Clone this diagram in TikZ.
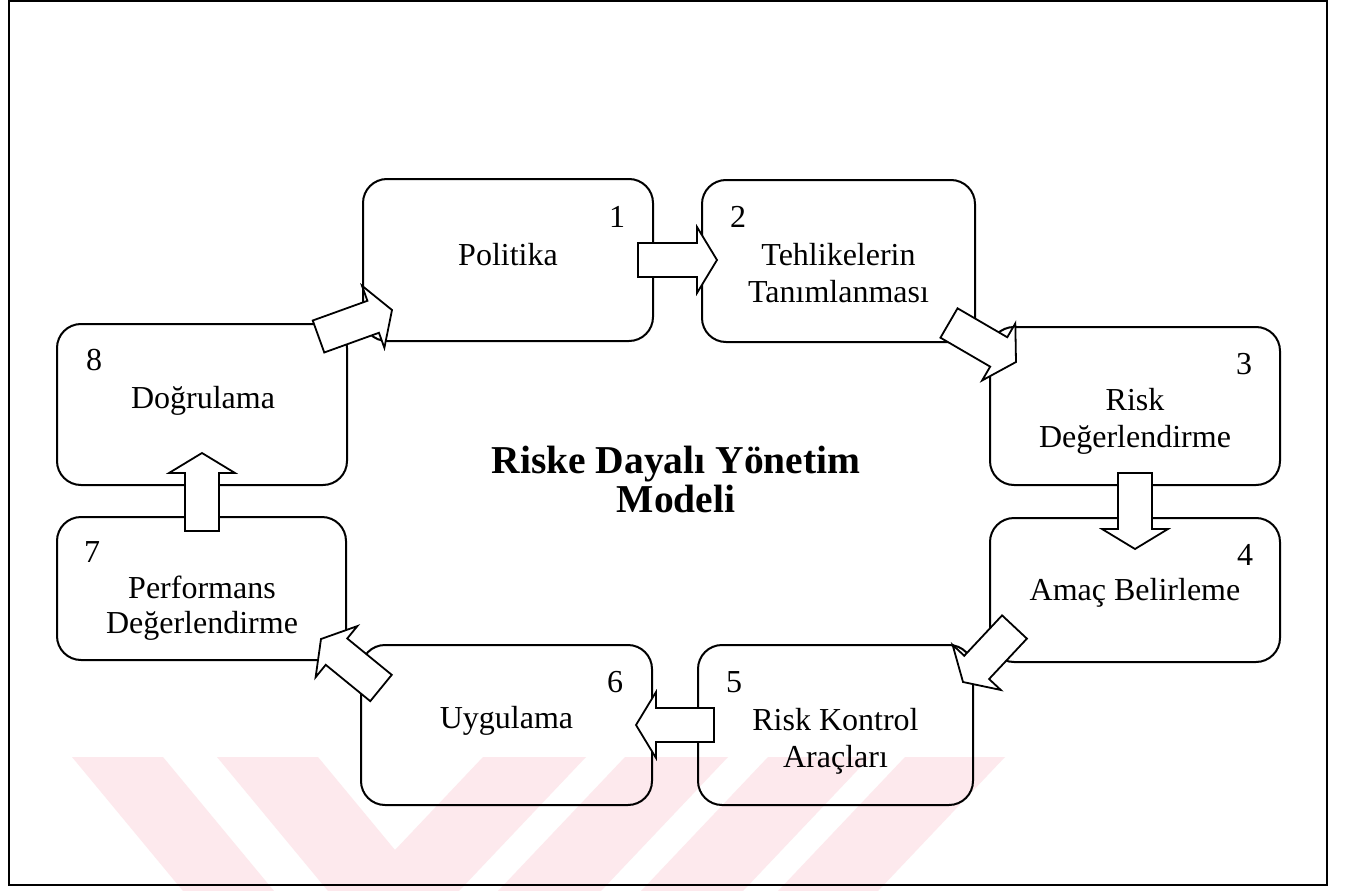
\documentclass[tikz,border=0pt]{standalone}
\usepackage{fontspec}
\setmainfont{Liberation Serif}
\usetikzlibrary{calc}
\definecolor{wmpink}{RGB}{253,233,237}
\begin{document}
\begin{tikzpicture}[x=1pt,y=-1pt,
  stagebox/.style={draw, line width=2pt, rounded corners=24pt, inner sep=0pt},
  lbl/.style={font=\fontsize{32}{37}\selectfont, inner sep=0pt, anchor=base},
  ttl/.style={font=\bfseries\fontsize{39.5}{40}\selectfont, inner sep=0pt, anchor=base},
  blockarrow/.style={fill=white, draw, line width=1.8pt, line join=miter,
    to path={let \p1=(\tikztostart), \p2=(\tikztotarget),
      \n1={atan2(\y2-\y1,\x2-\x1)} in
      ($(\p1)+(\n1+90:17pt)$)
      -- ($(\p2)+(\n1+180:20pt)+(\n1+90:17pt)$)
      -- ($(\p2)+(\n1+180:20pt)+(\n1+90:33pt)$)
      -- (\p2)
      -- ($(\p2)+(\n1+180:20pt)+(\n1-90:33pt)$)
      -- ($(\p2)+(\n1+180:20pt)+(\n1-90:17pt)$)
      -- ($(\p1)+(\n1-90:17pt)$) -- cycle}}]

% page
\fill[white] (0,0) rectangle (1345,891);
\useasboundingbox (0,0) rectangle (1345,891);

% faint stripes along the bottom
\begin{scope}
  \clip (0,757) rectangle (1345,891);
  \fill[wmpink] (72,757) -- (163,757) -- (274,891) -- (183,891) -- cycle;
  \fill[wmpink] (217,757) -- (318,757) -- (395,850) -- (483,757) -- (586,757)
     -- (459,891) -- (328,891) -- cycle;
  \fill[wmpink] (625,757) -- (728,757) -- (601,891) -- (498,891) -- cycle;
  \fill[wmpink] (768,757) -- (870,757) -- (743,891) -- (641,891) -- cycle;
  \fill[wmpink] (905,757) -- (1005,757) -- (878,891) -- (778,891) -- cycle;
\end{scope}

% outer frame
\draw[line width=2pt] (9,1.5) rectangle (1327,885);

% stages
\node[stagebox, minimum width=290pt, minimum height=162pt] (p1) at (508,260) {};
\node[stagebox, minimum width=273pt, minimum height=162pt] (p2) at (838.5,261) {};
\node[stagebox, minimum width=290pt, minimum height=158pt] (p3) at (1135,406) {};
\node[stagebox, minimum width=290pt, minimum height=144pt] (p4) at (1135,590) {};
\node[stagebox, minimum width=275pt, minimum height=160pt] (p5) at (835.5,725) {};
\node[stagebox, minimum width=291pt, minimum height=160pt] (p6) at (506.5,725) {};
\node[stagebox, minimum width=289pt, minimum height=143pt] (p7) at (201.5,588.5) {};
\node[stagebox, minimum width=290pt, minimum height=161pt] (p8) at (202,404.5) {};

% arrow ends
\coordinate (a1s) at ($(p1.east)+(-16,0)$);
\coordinate (a1e) at ($(p2.west)+(16,-1)$);
\coordinate (a2s) at ($(p2.south east)+(-27,-20)$);
\coordinate (a2e) at ($(p3.north west)+(27,36)$);
\coordinate (a3s) at ($(p3.south)+(0,-13)$);
\coordinate (a3e) at ($(p4.north)+(0,32)$);
\coordinate (a4s) at ($(p4.south west)+(25.5,-36)$);
\coordinate (a4e) at ($(p5.north east)+(-11,38)$);
\coordinate (a5s) at ($(p5.west)+(17,0)$);
\coordinate (a5e) at ($(p6.east)+(-17,0)$);
\coordinate (a6s) at ($(p6.north west)+(21,44)$);
\coordinate (a6e) at ($(p7.south east)+(-26,-22)$);
\coordinate (a7s) at ($(p7.north)+(0.5,15)$);
\coordinate (a7e) at ($(p8.south)+(0,-33)$);
\coordinate (a8s) at ($(p8.north east)+(-29.5,13.5)$);
\coordinate (a8e) at ($(p1.west)+(30,50)$);

% block arrows
\draw[blockarrow] (a1s) to (a1e);
\draw[blockarrow] (a2s) to (a2e);
\draw[blockarrow] (a3s) to (a3e);
\draw[blockarrow] (a4s) to (a4e);
\draw[blockarrow] (a5s) to (a5e);
\draw[blockarrow] (a6s) to (a6e);
\draw[blockarrow] (a7s) to (a7e);
\draw[blockarrow] (a8s) to (a8e);

% numbers
\node[lbl] (n1) at (617,227) {1};
\node[lbl] (n2) at (738,227) {2};
\node[lbl] (n3) at (1244,374) {3};
\node[lbl] (n4) at (1245,565) {4};
\node[lbl] (n5) at (734,692) {5};
\node[lbl] (n6) at (615,692) {6};
\node[lbl] (n7) at (92,562) {7};
\node[lbl] (n8) at (94,370) {8};

% stage names
\node[lbl] (t1) at (508,265) {Politika};
\node[lbl] (t2a) at (838.5,265) {Tehlikelerin};
\node[lbl] (t2b) at (838.5,302) {Tanımlanması};
\node[lbl] (t3a) at (1135,410) {Risk};
\node[lbl] (t3b) at (1135,447) {Değerlendirme};
\node[lbl] (t4) at (1135,600) {Amaç Belirleme};
\node[lbl] (t5a) at (835.5,730) {Risk Kontrol};
\node[lbl] (t5b) at (835.5,767) {Araçları};
\node[lbl] (t6) at (506.5,728) {Uygulama};
\node[lbl] (t7a) at (202,598) {Performans};
\node[lbl] (t7b) at (202,633) {Değerlendirme};
\node[lbl] (t8) at (203,408) {Doğrulama};

% title
\node[ttl] (tt1) at (676,473) {Riske Dayalı Yönetim};
\node[ttl] (tt2) at (676,512) {Modeli};
\end{tikzpicture}
\end{document}
